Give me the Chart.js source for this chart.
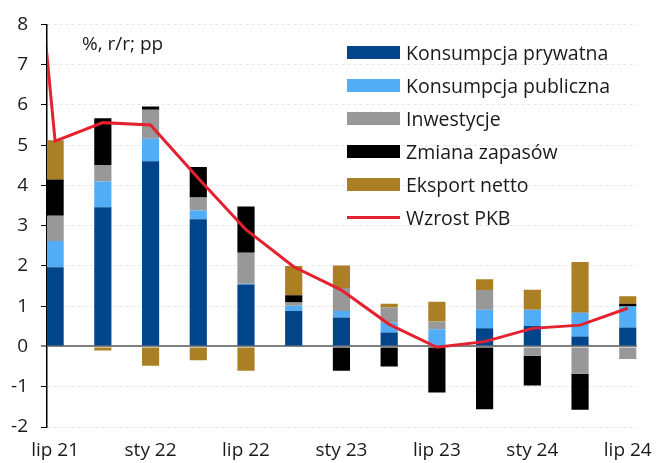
<!DOCTYPE html>
<html>
<head>
<meta charset="utf-8">
<script src="https://cdn.jsdelivr.net/npm/chart.js@4"></script>
<style>
  body { margin: 0; background: #fff; }
  #wrap { position: relative; width: 656px; height: 463px; }
  #unit { position: absolute; left: 82px; top: 30px; font: 19px "Open Sans", sans-serif; color: #1a1a1a; }
  #legend { position: absolute; left: 347px; top: 36px; font: 19.5px "Open Sans", sans-serif; color: #1a1a1a; }
  .item { height: 33px; display: flex; align-items: center; white-space: nowrap; }
  .sw { width: 53px; height: 13px; margin-right: 6px; }
  .sw.line { height: 3px; }
</style>
</head>
<body>
<div id="wrap">
  <canvas id="c" width="656" height="463"></canvas>
  <div id="unit">%, r/r; pp</div>
  <div id="legend"></div>
</div>
<script>
// quarters, lip 21 .. lip 24
const quarters = ["lip 21", "paź 21", "sty 22", "kwi 22", "lip 22", "paź 22", "sty 23",
  "kwi 23", "lip 23", "paź 23", "sty 24", "kwi 24", "lip 24"];

// contributions to GDP growth, pp
const privCons = [1.97, 3.46, 4.60, 3.16, 1.54, 0.88, 0.72, 0.35, 0.00, 0.45, 0.51, 0.25, 0.47];
const pubCons  = [0.65, 0.64, 0.56, 0.22, 0.02, 0.13, 0.16, 0.24, 0.43, 0.46, 0.40, 0.59, 0.52];
const invest   = [0.63, 0.41, 0.72, 0.32, 0.77, 0.08, 0.57, 0.38, 0.19, 0.49, -0.23, -0.68, -0.31];
const stocks   = [0.90, 1.16, 0.08, 0.76, 1.15, 0.18, -0.60, -0.50, -1.14, -1.56, -0.74, -0.89, 0.07];
const netExp   = [0.97, -0.10, -0.48, -0.34, -0.60, 0.73, 0.56, 0.09, 0.49, 0.27, 0.50, 1.26, 0.19];

// GDP growth y/y, %; first value is the quarter before lip 21 (off the chart)
const gdpPrev = 17.5;
const gdp = [5.10, 5.56, 5.50, 4.18, 2.90, 1.98, 1.40, 0.55, -0.02, 0.12, 0.45, 0.53, 0.95];

const yTicks = { min: -2, max: 8, step: 1 };

const toXY = arr => arr.map((v, i) => ({ x: i, y: v }));
const gdpPts = [{ x: -1, y: gdpPrev }].concat(toXY(gdp));

const bar = (label, data, color) => ({
  type: "bar", label, data: toXY(data), backgroundColor: color,
  borderWidth: 0, barPercentage: 0.45, categoryPercentage: 0.8
});

const datasets = [
  bar("Konsumpcja prywatna", privCons, "#00448a"),
  bar("Konsumpcja publiczna", pubCons, "#52adf7"),
  bar("Inwestycje", invest, "#989898"),
  bar("Zmiana zapasów", stocks, "#000000"),
  bar("Eksport netto", netExp, "#ab7f24"),
  {
    type: "line", label: "Wzrost PKB", data: gdpPts, borderColor: "#e3212f",
    borderWidth: 3, pointRadius: 0, tension: 0, stack: "gdp", order: -1
  }
];

const font = { family: "Open Sans", size: 19 };

const chart = new Chart(document.getElementById("c"), {
  data: { datasets },
  options: {
    responsive: false,
    animation: false,
    layout: { padding: { top: 23, right: 19, left: 0, bottom: 0 } },
    plugins: { legend: { display: false }, tooltip: { enabled: false } },
    scales: {
      x: {
        type: "linear",
        min: -0.17, max: 12.19,
        offset: false,
        stacked: true,
        grid: { display: false },
        border: { display: false },
        ticks: {
          stepSize: 2, includeBounds: false, font, color: "#1a1a1a", padding: 4,
          maxRotation: 0,
          callback: v => quarters[v] || ""
        },
        afterFit: s => { s.height = 36; }
      },
      y: {
        stacked: true,
        min: yTicks.min, max: yTicks.max,
        ticks: { stepSize: yTicks.step, font, color: "#1a1a1a", padding: 13 },
        grid: {
          color: c => c.tick && c.tick.value === 0 ? "#7f7f7f" : "#e4e4e4",
          lineWidth: c => c.tick && c.tick.value === 0 ? 2 : 1,
          tickColor: "#000", tickLength: 6, tickWidth: 1
        },
        border: {
          color: "#000", width: 1.5,
          dash: c => c.tick && c.tick.value !== 0 ? [3, 3] : []
        },
        afterFit: s => { s.width = 47; }
      }
    }
  }
});

// legend built from the datasets
const leg = document.getElementById("legend");
chart.data.datasets.forEach(ds => {
  const it = document.createElement("div");
  it.className = "item";
  const sw = document.createElement("span");
  sw.className = ds.type === "line" ? "sw line" : "sw";
  sw.style.background = ds.type === "line" ? ds.borderColor : ds.backgroundColor;
  it.appendChild(sw);
  it.appendChild(document.createTextNode(ds.label));
  leg.appendChild(it);
});
</script>
</body>
</html>
